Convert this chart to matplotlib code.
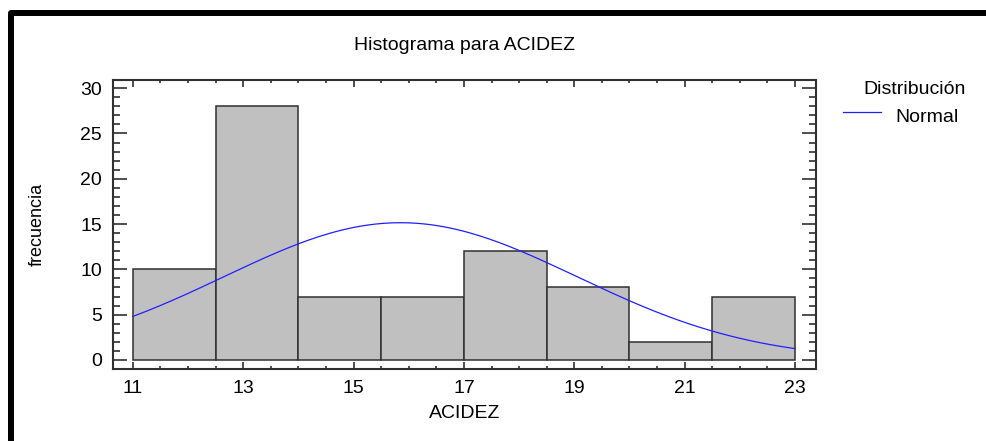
import matplotlib
matplotlib.use("Agg")
import matplotlib.pyplot as plt
import numpy as np
from matplotlib.lines import Line2D

plt.rcParams["font.family"] = ["Liberation Sans", "DejaVu Sans"]

# Histogram data
bin_edges = [11, 12.5, 14, 15.5, 17, 18.5, 20, 21.5, 23]
counts = [10, 28, 7, 7, 12, 8, 2, 7]

# Fitted normal distribution
fit_mean = 15.85
fit_sd = 3.2

x_ticks = [11, 13, 15, 17, 19, 21, 23]
y_ticks = [0, 5, 10, 15, 20, 25, 30]

W, H = 987, 441
FS = 14
fig = plt.figure(figsize=(W / 100, H / 100), dpi=100)

# axes box in pixels: left 113, right 816, top 80, bottom 369
ax = fig.add_axes([113 / W, 1 - 369 / H, (816 - 113) / W, (369 - 80) / H])

edges = np.array(bin_edges)
widths = np.diff(edges)
ax.bar(edges[:-1], counts, width=widths, align="edge",
       color="#c0c0c0", edgecolor="#303030", linewidth=1.1)

n_total = sum(counts)
bw = widths[0]
xs = np.linspace(bin_edges[0], bin_edges[-1], 200)
ys = n_total * bw * np.exp(-0.5 * ((xs - fit_mean) / fit_sd) ** 2) / (fit_sd * np.sqrt(2 * np.pi))
ax.plot(xs, ys, color="#2020ff", linewidth=0.9)

ax.set_xlim(10.64, 23.38)
ax.set_ylim(-1.0, 30.9)
ax.set_xticks(x_ticks)
ax.set_yticks(y_ticks)
ax.set_xticks(np.arange(11, 23.01, 0.5), minor=True)
ax.set_yticks(np.arange(0, 31, 1), minor=True)
ax.tick_params(which="both", direction="in", top=True, right=True,
               labelsize=FS, color="#303030", width=1.2)
ax.tick_params(axis="y", which="major", length=10, pad=8)
ax.tick_params(axis="y", which="minor", length=5)
ax.tick_params(axis="x", which="major", length=5, pad=8)
ax.tick_params(axis="x", which="minor", length=2.5)
for s in ax.spines.values():
    s.set_linewidth(1.5)
    s.set_color("#303030")

ax.text(0.5, (369 - 45) / 289, "Histograma para ACIDEZ", fontsize=FS,
        ha="center", va="center", transform=ax.transAxes)
ax.set_xlabel("ACIDEZ", fontsize=FS, va="center")
ax.xaxis.set_label_coords(0.5, (369 - 413) / 289)
ax.set_ylabel("frecuencia", fontsize=13, va="center")
ax.yaxis.set_label_coords((37 - 113) / 703, 0.5)

# legend
fig.text(915 / W, 1 - 90 / H, "Distribución", fontsize=FS, ha="center", va="center")
fig.add_artist(Line2D([843 / W, 881 / W], [1 - 112 / H, 1 - 112 / H],
                      color="#2020ff", linewidth=0.9))
fig.text(895 / W, 1 - 117 / H, "Normal", fontsize=FS, ha="left", va="center")

# thick frame along top and left
fig.add_artist(Line2D([11 / W, 11 / W, 1.0], [0.0, 1 - 13 / H, 1 - 13 / H],
                      color="black", linewidth=4.3, solid_joinstyle="round"))

fig.savefig("out.png", dpi=100)
